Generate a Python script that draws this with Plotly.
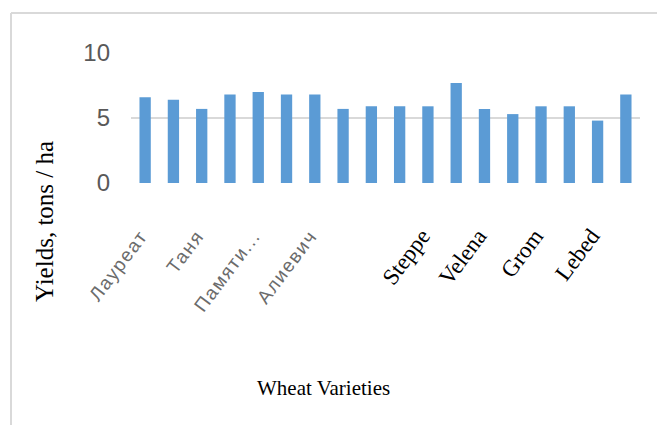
import plotly.graph_objects as go

# data
labels = ["Лауреат", "", "Таня", "", "Памяти...", "", "Алиевич", "", "",
          "", "Steppe", "", "Velena", "", "Grom", "", "Lebed", ""]
yields = [6.6, 6.4, 5.7, 6.8, 7.0, 6.8, 6.8, 5.7, 5.9,
          5.9, 5.9, 7.7, 5.7, 5.3, 5.9, 5.9, 4.8, 6.8]
cyrillic = {"Лауреат", "Таня", "Памяти...", "Алиевич"}
y_ticks = [0, 5, 10]

W, H = 657, 425
L, R, T, B = 131, 17, 53, 242
pw, ph = W - L - R, H - T - B

def px(x):
    return (x - L) / pw

def py(y):
    return (H - B - y) / ph

xpos = list(range(len(yields)))

def fmt(lbl):
    if not lbl:
        return ""
    if lbl in cyrillic:
        return ("<span style='font-family:Liberation Sans, Arial, sans-serif;"
                "fill:#6b6b6b;font-size:19px;letter-spacing:1.5px'>" + lbl + "</span>")
    return lbl

ticktext = [fmt(l) for l in labels]

fig = go.Figure(go.Bar(x=xpos, y=yields, marker=dict(color="#5b9bd5", line=dict(width=0)),
                       width=0.4, hoverinfo="skip"))

fig.update_layout(
    width=W, height=H,
    margin=dict(l=L, r=R, t=T, b=B, autoexpand=False),
    paper_bgcolor="white", plot_bgcolor="white",
    showlegend=False,
    xaxis=dict(
        tickmode="array", tickvals=xpos, ticktext=ticktext,
        tickangle=-53, range=[-0.5, len(yields) - 0.5],
        showgrid=False, showline=False, zeroline=False, ticks="",
        tickfont=dict(family="Liberation Serif, Times New Roman, serif", size=23, color="black"),
        ticklabelstandoff=34, ticklabelshift=-6, automargin=False,
    ),
    yaxis=dict(
        range=[0, 10], tickvals=y_ticks,
        showgrid=True, gridcolor="#d9d9d9", gridwidth=1.5,
        zeroline=False, showline=False, ticks="",
        tickfont=dict(family="Liberation Sans, Arial, sans-serif",
                      size=24, color="#595959"),
        ticklabelstandoff=20, automargin=False,
    ),
    annotations=[
        dict(text="Yields, tons / ha", xref="paper", yref="paper",
             x=px(44), y=py(222), textangle=-90, showarrow=False,
             font=dict(family="Liberation Serif, Times New Roman, serif", size=25, color="black"),
             xanchor="center", yanchor="middle"),
        dict(text="Wheat Varieties", xref="paper", yref="paper",
             x=px(323), y=py(388), showarrow=False,
             font=dict(family="Liberation Serif, Times New Roman, serif", size=21, color="black"),
             xanchor="center", yanchor="middle"),
    ],
    shapes=[
        dict(type="line", xref="paper", yref="paper", x0=px(11), x1=px(11), y0=py(13), y1=py(430),
             line=dict(color="#d9d9d9", width=2)),
        dict(type="line", xref="paper", yref="paper", x0=px(11), x1=px(660), y0=py(13), y1=py(13),
             line=dict(color="#d9d9d9", width=2)),
    ],
)

fig.write_html("out.html", config={"displayModeBar": False},
               post_script="document.body.style.margin='0';document.body.style.overflow='hidden';")
